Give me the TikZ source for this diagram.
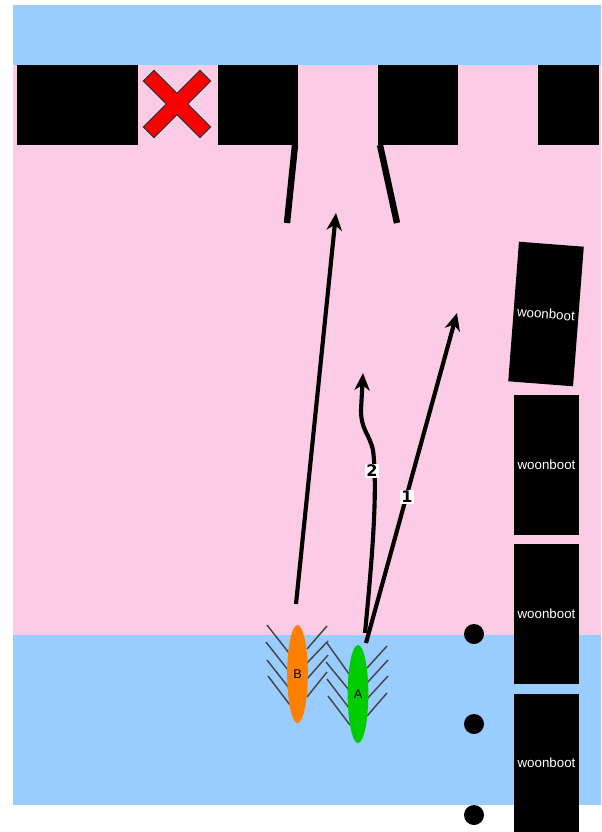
\documentclass[tikz,border=0pt]{standalone}
\usepackage{fontspec}
\setmainfont{Liberation Sans}
\newfontfamily\boldlab{DejaVu Sans}
\usetikzlibrary{shapes.geometric,arrows.meta}
\definecolor{water}{RGB}{153,204,255}
\definecolor{land}{RGB}{252,204,230}
\definecolor{oarc}{RGB}{70,70,70}
\definecolor{boatB}{RGB}{255,128,0}
\definecolor{boatA}{RGB}{0,204,0}
\definecolor{xred}{RGB}{250,0,0}
\begin{document}
\begin{tikzpicture}[x=0.75pt,y=-0.75pt,
  houseboat/.style={rectangle,fill=black,inner sep=0pt,minimum width=48.75pt,minimum height=105pt,
    text=white,font=\fontsize{10}{12}\selectfont},
  rowboat/.style={ellipse,inner sep=0pt,minimum width=15.5pt,minimum height=73.5pt,
    font=\fontsize{9.5}{11}\selectfont},
  route/.style={line width=3.1pt,-{Stealth[length=13pt,width=11.5pt,inset=4pt]}},
  routelabel/.style={fill=white,inner sep=1pt,font=\boldlab\bfseries\fontsize{12}{14}\selectfont},
  oar/.style={oarc,line width=1.1pt},
  gate/.style={line width=4.8pt},
  dot/.style={circle,fill=black,inner sep=0pt,minimum size=15pt}]
\useasboundingbox (0,0) rectangle (601,832);
\fill[white] (0,0) rectangle (601,832);
% water and land
\fill[water] (13,5) rectangle (601,65);
\fill[land] (13,65) rectangle (601,635);
\fill[water] (13,635) rectangle (601,805);
% quay blocks
\fill[black] (17,65) rectangle (138,145);
\fill[black] (218,65) rectangle (298,145);
\fill[black] (378,65) rectangle (458,145);
\fill[black] (538,65) rectangle (599,145);
% red cross
\draw[fill=xred,draw=black!80,line width=0.8pt,shift={(177,104)},rotate=45]
  (40,-7.5) -- (40,7.5) -- (7.5,7.5) -- (7.5,40) -- (-7.5,40) -- (-7.5,7.5) -- (-40,7.5)
  -- (-40,-7.5) -- (-7.5,-7.5) -- (-7.5,-40) -- (7.5,-40) -- (7.5,-7.5) -- cycle;
% gate lines
\coordinate (gLt) at (295,145); \coordinate (gLb) at (287,223);
\coordinate (gRt) at (380,145); \coordinate (gRb) at (397,223);
\draw[gate] (gLt) -- (gLb);
\draw[gate] (gRt) -- (gRb);
% houseboats
\node[houseboat,rotate=-4.4] (hb1) at (546,314) {woonboot};
\node[houseboat] (hb2) at (546.5,464.5) {woonboot};
\node[houseboat] (hb3) at (546.5,614) {woonboot};
\node[houseboat,minimum height=103.5pt] (hb4) at (546.5,763) {woonboot};
% dots
\node[dot] (d1) at (474,634) {};
\node[dot] (d2) at (474,724) {};
\node[dot] (d3) at (474,815) {};
% oars B
\draw[oar] (267,625) -- (289,653);
\draw[oar] (266,642) -- (288,670);
\draw[oar] (267,660) -- (289,688);
\draw[oar] (268,676) -- (290,705);
\draw[oar] (307,649) -- (327,626);
\draw[oar] (307,663) -- (328,641);
\draw[oar] (307,679) -- (328,655);
\draw[oar] (307,697) -- (327,672);
% oars A
\draw[oar] (327,643) -- (349,674);
\draw[oar] (326,662) -- (349,690);
\draw[oar] (327,679) -- (349,708);
\draw[oar] (328,696) -- (350,725);
\draw[oar] (367,668) -- (387,646);
\draw[oar] (367,683) -- (388,660);
\draw[oar] (367,699) -- (388,676);
\draw[oar] (367,716) -- (387,693);
% rowboats
\node[rowboat,fill=boatB] (B) at (297.5,674) {B};
\node[rowboat,fill=boatA] (A) at (358,694) {A};
% routes
\coordinate (bS) at (296,604); \coordinate (bE) at (336,213);
\coordinate (oneS) at (366,643); \coordinate (oneE) at (457,313);
\coordinate (twoS) at (365,633); \coordinate (twoM) at (373,450); \coordinate (twoE) at (363,373);
\draw[route] (bS) -- (bE);
\draw[route] (oneS) -- (oneE);
\draw[route] (twoS) .. controls (372,560) and (378,490) .. (twoM)
  .. controls (369,433) and (361,430) .. (361,410) -- (twoE);
\node[routelabel] (l2) at (372,471) {2};
\node[routelabel] (l1) at (407,497) {1};
\end{tikzpicture}
\end{document}
